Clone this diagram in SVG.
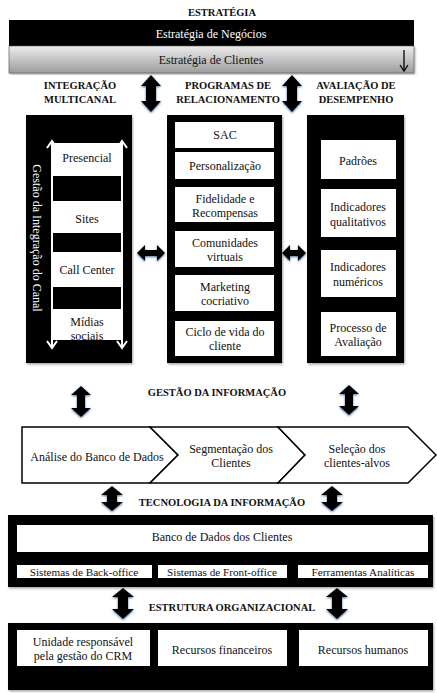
<svg xmlns="http://www.w3.org/2000/svg" width="437" height="693" viewBox="0 0 437 693">
<defs>
<linearGradient id="gray" x1="0" y1="0" x2="0" y2="1">
<stop offset="0" stop-color="#ececec"/>
<stop offset="1" stop-color="#9c9c9c"/>
</linearGradient>
<filter id="glow" x="-30%" y="-30%" width="160%" height="160%">
<feDropShadow dx="0" dy="1" stdDeviation="1" flood-color="#2f5b8a" flood-opacity="0.9"/>
</filter>
<filter id="shadow" x="-5%" y="-5%" width="110%" height="110%">
<feDropShadow dx="1" dy="1.5" stdDeviation="1.2" flood-color="#000" flood-opacity="0.35"/>
</filter>
</defs>
<style>
text{font-family:"Liberation Serif","Times New Roman",serif;text-anchor:middle;dominant-baseline:central;fill:#111}
.h{font-weight:bold;font-size:10.5px}
.t{font-size:12px}
.s{font-size:11.2px}
.w{fill:#fff}
.blk{fill:#000;filter:url(#shadow)}
.box{fill:#fff}
.arr{fill:#000;filter:url(#glow)}
.chev{fill:#fff;stroke:#000;stroke-width:1.5;stroke-linejoin:miter}
</style>
<rect width="437" height="693" fill="#fff"/>

<g id="estrategia">
<text class="h" x="222" y="12">ESTRATÉGIA</text>
<rect x="9" y="20" width="405" height="26" fill="#000"/>
<rect x="9" y="46" width="405" height="27" fill="url(#gray)" stroke="#555" stroke-width="0.6" filter="url(#shadow)"/>
<text class="t w" x="211" y="34">Estratégia de Negócios</text>
<text class="t" x="211" y="60">Estratégia de Clientes</text>
<line x1="404" y1="50" x2="404" y2="70" stroke="#000" stroke-width="1.3"/>
<polyline points="400,65 404,71 408,65" fill="none" stroke="#000" stroke-width="1.3"/>
</g>

<g id="headers">
<text class="h" x="80" y="85">INTEGRAÇÃO</text>
<text class="h" x="80" y="99">MULTICANAL</text>
<text class="h" x="228" y="85">PROGRAMAS DE</text>
<text class="h" x="228" y="99">RELACIONAMENTO</text>
<text class="h" x="356" y="85">AVALIAÇÃO DE</text>
<text class="h" x="356" y="99">DESEMPENHO</text>
</g>

<g id="integracao">
<rect class="blk" x="26" y="115" width="106" height="248"/>
<rect class="box" x="53" y="143" width="68" height="33"/>
<rect class="box" x="53" y="201" width="68" height="32"/>
<rect class="box" x="53" y="252" width="68" height="35"/>
<rect class="box" x="53" y="309" width="68" height="31"/>
<g stroke="#fff" stroke-width="2" fill="none">
<line x1="52" y1="142" x2="52" y2="346"/>
<line x1="122" y1="142" x2="122" y2="346"/>
<polyline points="47,148 52,141 57,148"/>
<polyline points="117,148 122,141 127,148"/>
<polyline points="47,341 52,348 57,341"/>
<polyline points="117,341 122,348 127,341"/>
</g>
<text class="t" x="87" y="158">Presencial</text>
<text class="t" x="87" y="219">Sites</text>
<text class="t" x="87" y="270">Call Center</text>
<text class="t" x="87" y="322">Mídias</text>
<text class="t" x="87" y="336">sociais</text>
<text class="t w" transform="translate(37,238) rotate(90)" x="0" y="0">Gestão da Integração do Canal</text>
</g>

<g id="programas">
<rect class="blk" x="167" y="115" width="115" height="248"/>
<rect class="box" x="175" y="122" width="99" height="26"/>
<rect class="box" x="175" y="152" width="99" height="27"/>
<rect class="box" x="175" y="187" width="99" height="35"/>
<rect class="box" x="175" y="231" width="99" height="36"/>
<rect class="box" x="175" y="275" width="99" height="36"/>
<rect class="box" x="175" y="321" width="99" height="35"/>
<text class="t" x="225" y="135">SAC</text>
<text class="t" x="225" y="166">Personalização</text>
<text class="t" x="225" y="199">Fidelidade e</text>
<text class="t" x="225" y="213">Recompensas</text>
<text class="t" x="225" y="243">Comunidades</text>
<text class="t" x="225" y="257">virtuais</text>
<text class="t" x="225" y="287">Marketing</text>
<text class="t" x="225" y="301">cocriativo</text>
<text class="t" x="225" y="332">Ciclo de vida do</text>
<text class="t" x="225" y="346">cliente</text>
</g>

<g id="avaliacao">
<rect class="blk" x="307" y="115" width="97" height="248"/>
<rect class="box" x="321" y="140" width="75" height="39"/>
<rect class="box" x="321" y="189" width="75" height="48"/>
<rect class="box" x="321" y="250" width="75" height="47"/>
<rect class="box" x="321" y="312" width="75" height="44"/>
<text class="t" x="358" y="161">Padrões</text>
<text class="t" x="358" y="207">Indicadores</text>
<text class="t" x="358" y="222">qualitativos</text>
<text class="t" x="358" y="267">Indicadores</text>
<text class="t" x="358" y="282">numéricos</text>
<text class="t" x="358" y="328">Processo de</text>
<text class="t" x="358" y="342">Avaliação</text>
</g>

<g id="gestao-informacao">
<text class="h" x="217" y="392">GESTÃO DA INFORMAÇÃO</text>
<path class="chev" d="M22,427 L150,427 L178,455 L150,483 L22,483 Z"/>
<path class="chev" d="M150,427 L278,427 L305,455 L278,483 L150,483 L178,455 Z"/>
<path class="chev" d="M278,427 L408,427 L436,455 L408,483 L278,483 L305,455 Z"/>
<text class="t" x="97" y="457">Análise do Banco de Dados</text>
<text class="t" x="231" y="449">Segmentação dos</text>
<text class="t" x="231" y="463">Clientes</text>
<text class="t" x="357" y="449">Seleção dos</text>
<text class="t" x="357" y="463">clientes-alvos</text>
</g>

<g id="tecnologia">
<text class="h" x="222" y="502">TECNOLOGIA DA INFORMAÇÃO</text>
<rect class="blk" x="8" y="515" width="425" height="72"/>
<rect class="box" x="17" y="525" width="411" height="27"/>
<rect class="box" x="17" y="565" width="135" height="13"/>
<rect class="box" x="158" y="565" width="129" height="13"/>
<rect class="box" x="298" y="565" width="130" height="13"/>
<text class="t" x="222" y="537">Banco de Dados dos Clientes</text>
<text class="s" x="84" y="572">Sistemas de Back-office</text>
<text class="s" x="222" y="572">Sistemas de Front-office</text>
<text class="s" x="363" y="572">Ferramentas Analíticas</text>
</g>

<g id="estrutura">
<text class="h" x="232" y="607">ESTRUTURA ORGANIZACIONAL</text>
<rect class="blk" x="8" y="623" width="425" height="67"/>
<rect class="box" x="17" y="630" width="133" height="36"/>
<rect class="box" x="158" y="630" width="129" height="36"/>
<rect class="box" x="299" y="630" width="129" height="36"/>
<text class="t" x="83" y="642">Unidade responsável</text>
<text class="t" x="83" y="656">pela gestão do CRM</text>
<text class="t" x="222" y="650">Recursos financeiros</text>
<text class="t" x="363" y="650">Recursos humanos</text>
</g>

<g id="connectors">
<path class="arr" d="M151,75 L161,86 L156,86 L156,101 L161,101 L151,112 L141,101 L146,101 L146,86 L141,86 Z"/>
<path class="arr" d="M292,75 L302,86 L297,86 L297,101 L302,101 L292,112 L282,101 L287,101 L287,86 L282,86 Z"/>
<path class="arr" d="M137,253 L145,245 L145,250 L157,250 L157,245 L165,253 L157,261 L157,256 L145,256 L145,261 Z"/>
<path class="arr" d="M282,253 L290,245 L290,250 L298,250 L298,245 L306,253 L298,261 L298,256 L290,256 L290,261 Z"/>
<path class="arr" d="M81,386 L91,395 L85,395 L85,408 L91,408 L81,417 L71,408 L77,408 L77,395 L71,395 Z"/>
<path class="arr" d="M349,385 L359,394 L353,394 L353,406 L359,406 L349,415 L339,406 L345,406 L345,394 L339,394 Z"/>
<path class="arr" d="M112,486 L123,495 L117,495 L117,502 L123,502 L112,511 L101,502 L107,502 L107,495 L101,495 Z"/>
<path class="arr" d="M332,486 L343,495 L337,495 L337,502 L343,502 L332,511 L321,502 L327,502 L327,495 L321,495 Z"/>
<path class="arr" d="M123,588 L134,597 L128,597 L128,609 L134,609 L123,619 L112,609 L118,609 L118,597 L112,597 Z"/>
<path class="arr" d="M337,588 L348,597 L342,597 L342,609 L348,609 L337,619 L326,609 L332,609 L332,597 L326,597 Z"/>
</g>
</svg>
